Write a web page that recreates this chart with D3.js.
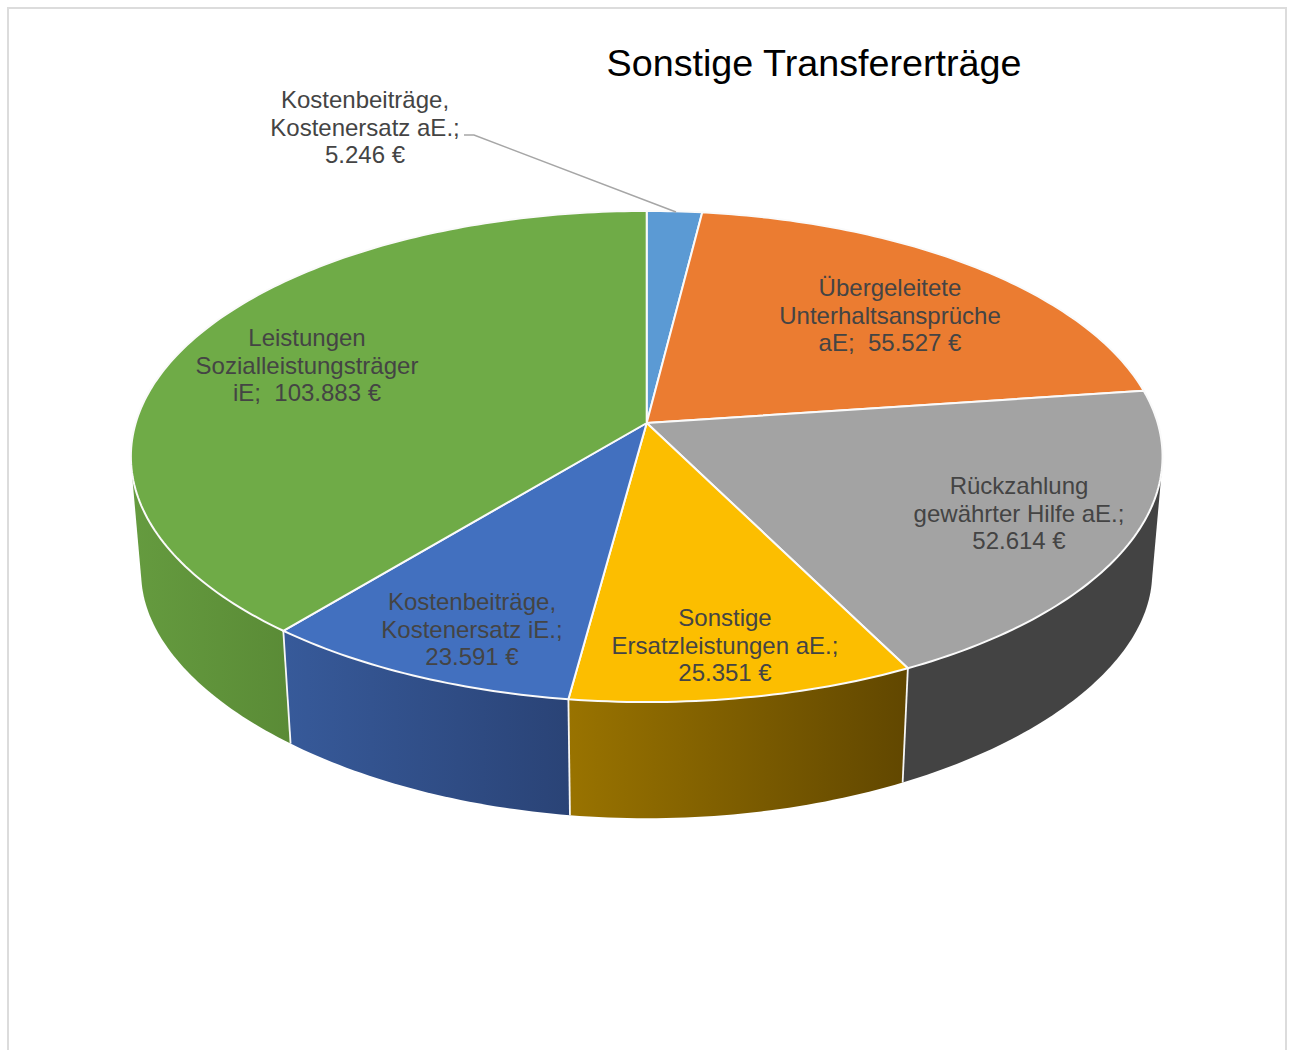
<!DOCTYPE html>
<html lang="de">
<head>
<meta charset="utf-8">
<title>Sonstige Transfererträge</title>
<script src="https://cdn.jsdelivr.net/npm/d3@7/dist/d3.min.js"></script>
<style>
html,body{margin:0;padding:0;background:#fff;overflow:hidden}
svg{display:block}
text{font-family:"Liberation Sans",Arial,sans-serif;white-space:pre}
</style>
</head>
<body>
<svg id="chart" width="1292" height="1050"></svg>
<script>
const chartTitle = "Sonstige Transfererträge";
const categories = [
  "Kostenbeiträge, Kostenersatz aE.",
  "Übergeleitete Unterhaltsansprüche aE",
  "Rückzahlung gewährter Hilfe aE.",
  "Sonstige Ersatzleistungen aE.",
  "Kostenbeiträge, Kostenersatz iE.",
  "Leistungen Sozialleistungsträger iE"
];
const values = [5246, 55527, 52614, 25351, 23591, 103883];
const labelLines = [
  ["Kostenbeiträge,", "Kostenersatz aE.;"],
  ["Übergeleitete", "Unterhaltsansprüche"],
  ["Rückzahlung", "gewährter Hilfe aE.;"],
  ["Sonstige", "Ersatzleistungen aE.;"],
  ["Kostenbeiträge,", "Kostenersatz iE.;"],
  ["Leistungen", "Sozialleistungsträger"]
];
const valuePrefix = ["", "aE;  ", "", "", "", "iE;  "];
const topColors = ["#5b9ad4", "#eb7c31", "#a3a3a3", "#fcbe00", "#4270bf", "#6fab47"];
const sideFrom = ["#4a7fb0", "#b05a20", "#434343", "#997300", "#375a9a", "#659b3f"];
const sideTo   = ["#3c6a94", "#9a4f1c", "#434343", "#614700", "#2a4376", "#5a8b36"];
const labelX = [365, 890, 1019, 725, 472, 307];
const labelY = [100, 288, 486, 618, 602, 338];

const svg = d3.select("#chart");
const defs = svg.append("defs");
const fmt = d3.formatLocale({decimal: ",", thousands: ".", grouping: [3], currency: ["", " €"]}).format(",.0f");

// Frame (open at the bottom)
svg.append("path").attr("d", d3.line()([[8, 1050], [8, 8], [1286, 8], [1286, 1050]]))
  .attr("fill", "none").attr("stroke", "#dcdcdc").attr("stroke-width", 2);

svg.append("text").attr("x", 814).attr("y", 76).attr("text-anchor", "middle")
  .attr("font-size", 37.7).attr("fill", "#000").text(chartTitle);

// Perspective projection of the pie disc
const apex = {x: 646.7, y: 423};
const radiusX = 511, radiusY = 241, persp = 0.1364;
const lowerScaleX = 0.98, lowerRadiusY = 221, lowerPersp = 0.2, lowerCenterY = 542;
function topPoint(theta) {
  const u = Math.sin(theta), v = -Math.cos(theta), w = 1 - persp * v;
  return [apex.x + radiusX * u / w, apex.y + radiusY * v / w];
}
function lowerPoint(theta) {
  const v = -Math.cos(theta);
  return [apex.x + lowerScaleX * (topPoint(theta)[0] - apex.x),
          lowerCenterY + lowerRadiusY * v / (1 - lowerPersp * v)];
}
const arcs = d3.pie().sort(null).startAngle(0).endAngle(2 * Math.PI)(values);
const line = d3.line();
const thetasBetween = (a0, a1) => d3.range(0, 1.0001, 1 / Math.max(8, Math.ceil((a1 - a0) * 60)))
  .map(t => a0 + t * (a1 - a0));

// Side walls: only the part of the rim that faces the viewer
const tangentR = Math.acos(-persp), tangentL = 2 * Math.PI - tangentR;
const wall = svg.append("g");
arcs.forEach((a, i) => {
  const a0 = Math.max(a.startAngle, tangentR), a1 = Math.min(a.endAngle, tangentL);
  if (a1 <= a0) return;
  const ts = thetasBetween(a0, a1);
  const hull = d3.polygonHull(ts.map(topPoint).concat(ts.map(lowerPoint)));
  const xs = hull.map(p => p[0]);
  const id = "side" + i;
  const g = defs.append("linearGradient").attr("id", id).attr("gradientUnits", "userSpaceOnUse")
    .attr("x1", d3.min(xs)).attr("x2", d3.max(xs)).attr("y1", 0).attr("y2", 0);
  g.append("stop").attr("offset", 0).attr("stop-color", sideFrom[i]);
  g.append("stop").attr("offset", 1).attr("stop-color", sideTo[i]);
  wall.append("path").attr("d", line(hull) + "Z").attr("fill", `url(#${id})`);
});
// Seams between neighbouring walls
arcs.forEach(a => {
  if (a.startAngle <= tangentR || a.startAngle >= tangentL) return;
  wall.append("path").attr("d", line([topPoint(a.startAngle), lowerPoint(a.startAngle)]))
    .attr("stroke", "#f6f6f6").attr("stroke-width", 1.8).attr("fill", "none");
});

// Top faces
svg.append("g").selectAll("path").data(arcs).join("path")
  .attr("d", a => line([[apex.x, apex.y]].concat(thetasBetween(a.startAngle, a.endAngle).map(topPoint))) + "Z")
  .attr("fill", (a, i) => topColors[i])
  .attr("stroke", "#fafafa").attr("stroke-width", 2).attr("stroke-linejoin", "round");

// Leader line of the first label
svg.append("path").attr("d", d3.line()([[464, 135], [474, 135], [676, 212]]))
  .attr("fill", "none").attr("stroke", "#a6a6a6").attr("stroke-width", 1.5);

// Data labels
const lineStep = 27.5;
const labels = svg.append("g").attr("font-size", 24).attr("fill", "#444").attr("text-anchor", "middle");
values.forEach((v, i) => {
  const lines = labelLines[i].concat(valuePrefix[i] + fmt(v) + " €");
  const t = labels.append("text").attr("x", labelX[i]).attr("y", labelY[i] + 8);
  lines.forEach((s, k) => t.append("tspan").attr("x", labelX[i]).attr("y", labelY[i] + 8 + k * lineStep).text(s));
});
</script>
</body>
</html>
